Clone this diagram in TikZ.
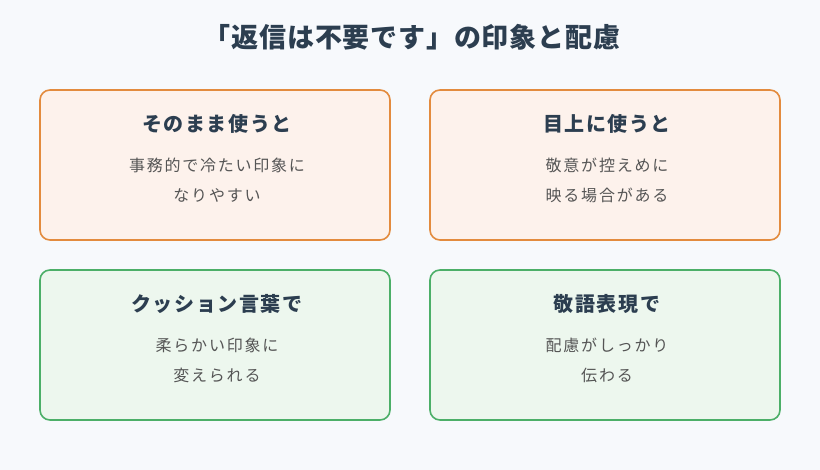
\documentclass[tikz,border=0pt]{standalone}
\usepackage{fontspec}
\setmainfont{Noto Sans CJK JP}
\definecolor{bgcol}{HTML}{F7F9FC}
\definecolor{titlecol}{HTML}{2C3E50}
\definecolor{textcol}{HTML}{555555}
\definecolor{orangeline}{HTML}{E38B3E}
\definecolor{orangefill}{HTML}{FDF2EC}
\definecolor{greenline}{HTML}{4CAF68}
\definecolor{greenfill}{HTML}{EDF7EE}
\tikzset{
  card/.style={draw, line width=1.6pt, rounded corners=10pt, minimum width=350pt, minimum height=150pt, inner sep=0pt},
  warn/.style={card, draw=orangeline, fill=orangefill},
  good/.style={card, draw=greenline, fill=greenfill},
  head/.style={font=\fontsize{20pt}{22pt}\selectfont\bfseries\addfontfeatures{LetterSpace=8}, text=titlecol},
  body/.style={font=\fontsize{16pt}{30pt}\selectfont\addfontfeatures{LetterSpace=11}, text=textcol, align=center}
}
\begin{document}
\begin{tikzpicture}[x=1pt, y=-1pt]
  \fill[bgcol] (0,0) rectangle (820,470);
  \useasboundingbox (0,0) rectangle (820,470);

  % Titel
  \node[font=\fontsize{27pt}{30pt}\selectfont\bfseries\addfontfeatures{LetterSpace=3}, text=titlecol] (title) at (412,37) {「返信は不要です」の印象と配慮};

  % Karten
  \node[warn] (plain) at (215,165) {};
  \node[warn] (upper) at (605,165) {};
  \node[good] (cushion) at (215,345) {};
  \node[good] (keigo) at (605,345) {};

  \node[head] (plainhead) at (217,124) {そのまま使うと};
  \node[body] (plainbody) at (217,180) {事務的で冷たい印象に\\なりやすい};

  \node[head] (upperhead) at (607,124) {目上に使うと};
  \node[body] (upperbody) at (607,180) {敬意が控えめに\\映る場合がある};

  \node[head] (cushionhead) at (217,304) {クッション言葉で};
  \node[body] (cushionbody) at (217,360) {柔らかい印象に\\変えられる};

  \node[head] (keigohead) at (607,304) {敬語表現で};
  \node[body] (keigobody) at (607,360) {配慮がしっかり\\伝わる};
\end{tikzpicture}
\end{document}
